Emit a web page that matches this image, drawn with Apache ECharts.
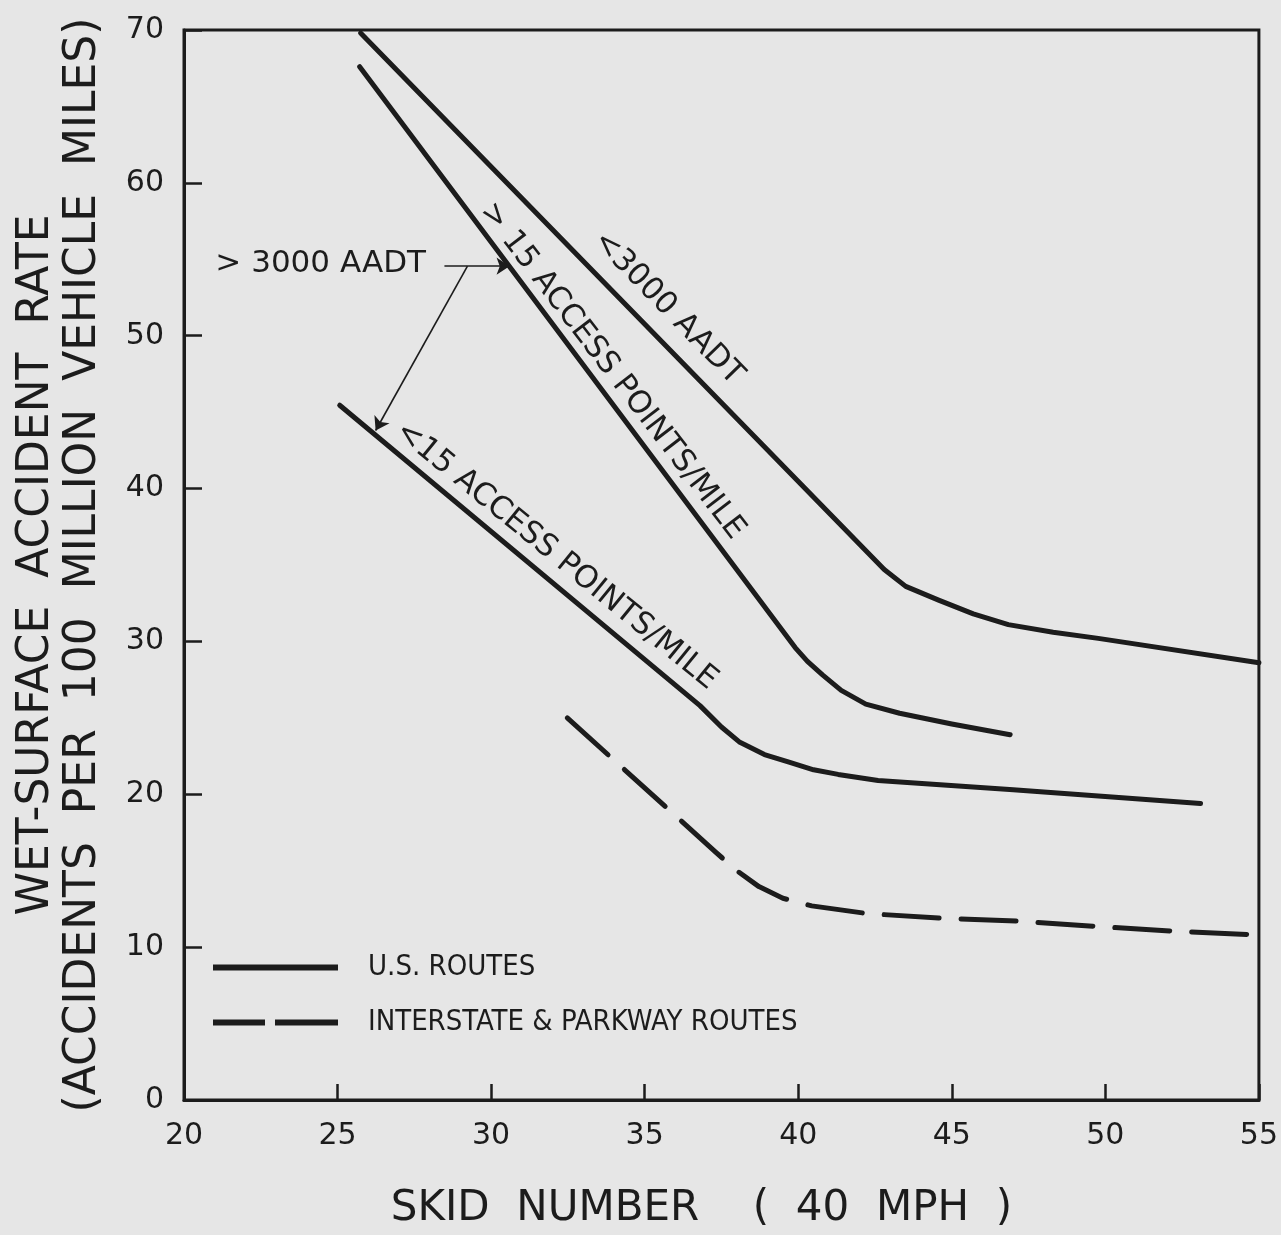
<!DOCTYPE html>
<html>
<head>
<meta charset="utf-8">
<script src="https://cdn.jsdelivr.net/npm/echarts@6/dist/echarts.min.js"></script>
<style>
  html, body { margin: 0; padding: 0; background: #e6e6e6; }
  #chart { width: 1281px; height: 1235px; }
</style>
</head>
<body>
<div id="chart"></div>
<script>
// ---- Data (skid number vs wet-surface accident rate) ----
const xTicks = [20, 25, 30, 35, 40, 45, 50, 55];
const yTicks = [0, 10, 20, 30, 40, 50, 60, 70];

// U.S. routes, < 3000 AADT
const lowAadtX = [25.75, 42.8, 43.5, 44.57, 45.7, 46.84, 48.3, 49.77, 55.0];
const lowAadtY = [69.8, 34.7, 33.6, 32.7, 31.8, 31.1, 30.6, 30.2, 28.6];

// U.S. routes, > 3000 AADT, > 15 access points/mile
const highAccessX = [25.72, 39.9, 40.3, 40.8, 41.4, 42.2, 43.3, 45.0, 46.9];
const highAccessY = [67.6, 29.6, 28.7, 27.8, 26.8, 25.9, 25.3, 24.6, 23.9];

// U.S. routes, > 3000 AADT, < 15 access points/mile
const lowAccessX = [25.07, 36.8, 37.5, 38.1, 38.9, 39.7, 40.5, 41.3, 42.6, 47.0, 53.1];
const lowAccessY = [45.45, 25.8, 24.4, 23.4, 22.6, 22.1, 21.6, 21.3, 20.9, 20.3, 19.4];

// Interstate & parkway routes
const interstateX = [32.48, 37.32, 38.0, 38.72, 39.5, 40.44, 42.23, 44.57, 47.17, 49.67, 52.27, 54.97];
const interstateY = [25.0, 16.2, 15.0, 13.96, 13.2, 12.7, 12.2, 11.9, 11.7, 11.36, 11.04, 10.8];

const legendNames = ['U.S. ROUTES', 'INTERSTATE & PARKWAY ROUTES'];

// Curve annotations (anchor in data units, angle in degrees)
const noteText  = ['<3000 AADT', '> 15 ACCESS POINTS/MILE', '<15 ACCESS POINTS/MILE', '> 3000 AADT'];
const noteX     = [35.76, 33.94, 32.12, 24.45];
const noteY     = [51.8, 47.7, 35.6, 54.7];
const noteAngle = [-45.8, -52.5, -39.2, 0];

// Arrows from the "> 3000 AADT" label (data units)
const arrowFromX = [28.48, 29.23];
const arrowFromY = [54.55, 54.55];
const arrowToX   = [30.6, 26.24];
const arrowToY   = [54.55, 43.8];

// ---- build ----
const pair = (xs, ys) => xs.map((x, i) => [x, ys[i]]);
const INK = '#1c1c1c';
const FONT = '"DejaVu Sans", sans-serif';
const FONT_C = '"DejaVu Sans Condensed", "DejaVu Sans", sans-serif';

const solidStyle = { color: INK, width: 5, cap: 'round', join: 'round' };

const chart = echarts.init(document.getElementById('chart'), null, { renderer: 'canvas' });

const option = {
  backgroundColor: '#e6e6e6',
  animation: false,
  grid: {
    left: 184, right: 20, top: 30, bottom: 127,
    show: true, borderColor: INK, borderWidth: 3, backgroundColor: 'transparent'
  },
  legend: {
    data: [
      { name: legendNames[0], icon: 'path://M0,0H125V6H0Z' },
      { name: legendNames[1], icon: 'path://M0,0H52V6H0Z M62,0H125V6H62Z' }
    ],
    orient: 'vertical',
    left: 208, top: 948,
    itemWidth: 125, itemHeight: 6, itemGap: 26,
    symbolKeepAspect: false,
    itemStyle: { color: INK },
    textStyle: { fontFamily: FONT_C, fontSize: 29, color: INK, padding: [0, 0, 0, 25] },
    selectedMode: false
  },
  xAxis: {
    type: 'value', min: xTicks[0], max: xTicks[xTicks.length - 1], interval: 5,
    name: 'SKID  NUMBER    (  40  MPH  )',
    nameLocation: 'middle', nameGap: 88,
    nameTextStyle: { fontFamily: FONT, fontSize: 42, color: INK, padding: [0, 40, 0, 0] },
    axisLine: { show: true, lineStyle: { color: INK, width: 3 } },
    axisTick: { show: true, inside: true, length: 16, lineStyle: { color: INK, width: 2.5 } },
    axisLabel: { fontFamily: FONT, fontSize: 30, color: INK, margin: 21 },
    splitLine: { show: false }
  },
  yAxis: {
    type: 'value', min: yTicks[0], max: yTicks[yTicks.length - 1], interval: 10,
    name: 'WET-SURFACE  ACCIDENT  RATE\n(ACCIDENTS  PER  100  MILLION  VEHICLE  MILES)',
    nameLocation: 'middle', nameRotate: 90, nameGap: 77,
    nameTextStyle: { fontFamily: FONT, fontSize: 44, lineHeight: 47, color: INK, align: 'center' },
    axisLine: { show: true, lineStyle: { color: INK, width: 3 } },
    axisTick: { show: true, inside: true, length: 18, lineStyle: { color: INK, width: 2.5 } },
    axisLabel: { fontFamily: FONT, fontSize: 30, color: INK, margin: 20 },
    splitLine: { show: false }
  },
  series: [
    {
      id: 'lowAadt', name: legendNames[0], type: 'line', data: pair(lowAadtX, lowAadtY),
      showSymbol: false, symbol: 'none', smooth: false,
      lineStyle: solidStyle, itemStyle: { color: INK }, silent: true
    },
    {
      id: 'highAccess', name: legendNames[0], type: 'line', data: pair(highAccessX, highAccessY),
      showSymbol: false, symbol: 'none', smooth: false,
      lineStyle: solidStyle, itemStyle: { color: INK }, silent: true
    },
    {
      id: 'lowAccess', name: legendNames[0], type: 'line', data: pair(lowAccessX, lowAccessY),
      showSymbol: false, symbol: 'none', smooth: false,
      lineStyle: solidStyle, itemStyle: { color: INK }, silent: true,
      markLine: {
        silent: true, animation: false,
        symbol: ['none', 'arrow'], symbolSize: 13,
        label: { show: false },
        lineStyle: { color: INK, width: 1.6, type: 'solid' },
        data: arrowFromX.map((x, i) => [
          { coord: [x, arrowFromY[i]] },
          { coord: [arrowToX[i], arrowToY[i]] }
        ])
      }
    },
    {
      id: 'interstate', name: legendNames[1], type: 'line', data: pair(interstateX, interstateY),
      showSymbol: false, symbol: 'none', smooth: false,
      lineStyle: { color: INK, width: 5, type: [55, 22], cap: 'round', join: 'round' },
      itemStyle: { color: INK }, silent: true
    }
  ]
};

chart.setOption(option);

// Place the curve annotations at data positions via the chart's own scales
const notes = noteText.map((t, i) => {
  const p = chart.convertToPixel({ gridIndex: 0 }, [noteX[i], noteY[i]]);
  return {
    type: 'text', x: p[0], y: p[1], rotation: noteAngle[i] * Math.PI / 180, silent: true,
    style: {
      text: t, fontFamily: FONT, fontSize: 31, fill: INK,
      align: 'center', verticalAlign: 'middle'
    }
  };
});
chart.setOption({ graphic: notes });
</script>
</body>
</html>
